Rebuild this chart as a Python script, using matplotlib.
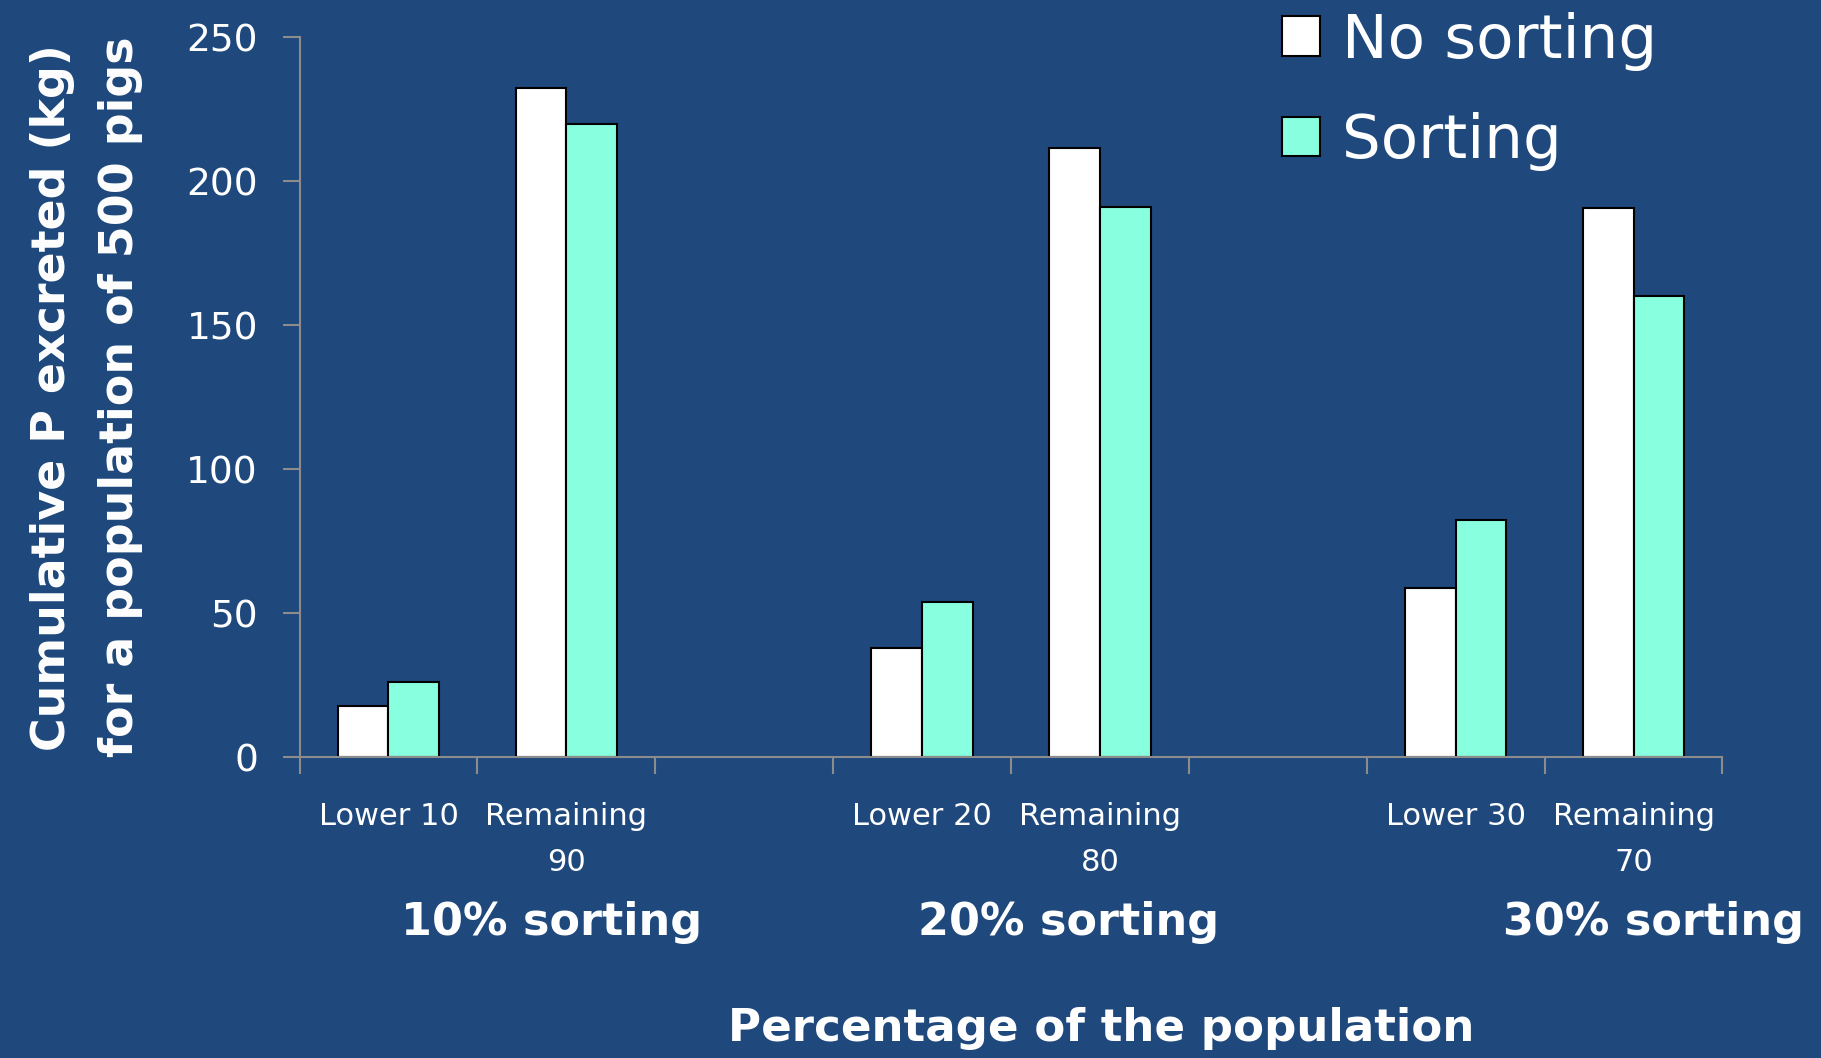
# Cumulative P excreted by pigs, with and without sorting
import matplotlib.pyplot as plt
import numpy as np

categories = ['Lower 10', 'Remaining\n90', '', 'Lower 20', 'Remaining\n80', '', 'Lower 30', 'Remaining\n70']
no_sorting = [17.7, 232.3, np.nan, 37.9, 211.7, np.nan, 58.9, 190.7]
sorting = [26.2, 219.8, np.nan, 54.0, 191.1, np.nan, 82.3, 160.1]
group_labels = ['10% sorting', '20% sorting', '30% sorting']
y_ticks = [0, 50, 100, 150, 200, 250]

bg = '#1F497D'
aqua = '#88FFDF'
grey = '#8C8C8C'

plt.rcParams['font.family'] = ['DejaVu Sans']

fig = plt.figure(figsize=(18.21, 10.58), dpi=100, facecolor=bg)
ax = fig.add_axes([0.1645, 0.2843, 0.7814, 0.6805])
ax.set_facecolor(bg)

x = np.arange(len(categories))
width = 0.285
ax.bar(x - width / 2, no_sorting, width=width, color='white', edgecolor='black', linewidth=1.5, label='No sorting')
ax.bar(x + width / 2, sorting, width=width, color=aqua, edgecolor='black', linewidth=1.5, label='Sorting')

ax.set_xlim(-0.5, len(categories) - 0.5)
ax.set_ylim(0, 250)
ax.set_yticks(y_ticks)
ax.tick_params(axis='y', colors=grey, labelcolor='white', labelsize=27, length=12, width=1.5, pad=18)

ax.set_xticks(x)
ax.set_xticklabels(categories, color='white', fontsize=22, linespacing=1.75, va='top')
ax.set_xticks(np.arange(-0.5, len(categories)), minor=True)
ax.tick_params(axis='x', which='major', length=0, pad=32)
ax.tick_params(axis='x', which='minor', colors=grey, length=12, width=1.5)

for side in ['top', 'right']:
    ax.spines[side].set_visible(False)
for side in ['left', 'bottom']:
    ax.spines[side].set_color(grey)
    ax.spines[side].set_linewidth(1.5)

ax.set_ylabel('Cumulative P excreted (kg)\nfor a population of 500 pigs', color='white',
              fontsize=33, fontweight='bold', linespacing=1.65, labelpad=31)

# group captions below the category labels
for gx, txt in zip([0.303, 0.587, 0.908], group_labels):
    fig.text(gx, 0.128, txt, color='white', fontsize=32, fontweight='bold', ha='center', va='center')
fig.text(0.6046, 0.028, 'Percentage of the population', color='white', fontsize=32.5,
         fontweight='bold', ha='center', va='center')

leg = fig.legend(loc='upper left', bbox_to_anchor=(0.674, 1.041), frameon=False, fontsize=44,
                 handlelength=0.62, handleheight=0.62, handletextpad=0.35, labelspacing=0.68)
for t in leg.get_texts():
    t.set_color('white')

plt.savefig('out.png', facecolor=bg)
